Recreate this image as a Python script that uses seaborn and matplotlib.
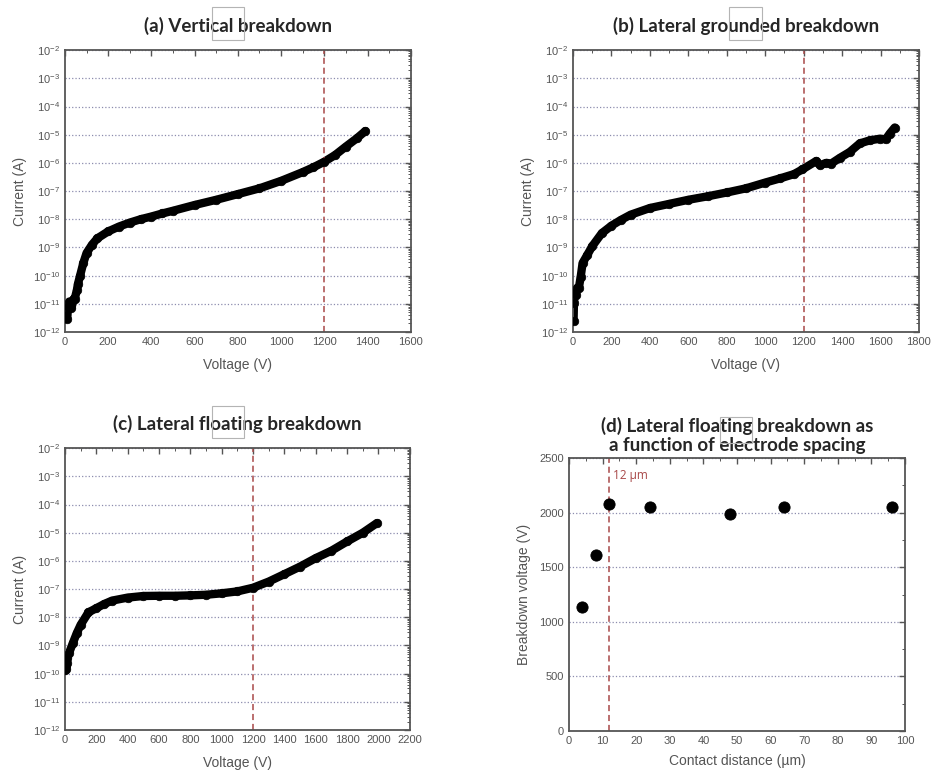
import math
import matplotlib
matplotlib.use("Agg")
import matplotlib.pyplot as plt
import matplotlib.ticker as mticker
from matplotlib.patches import Rectangle
import seaborn as sns
import pandas as pd

sns.set_style("white")
plt.rcParams['font.family'] = ['Liberation Sans', 'DejaVu Sans']
plt.rcParams['mathtext.default'] = 'regular'

# (a) vertical breakdown
volt_a = [5, 10, 15, 20, 30, 40, 45, 55, 60, 70, 85, 100, 125, 150, 200, 250, 300, 350,
          400, 450, 500, 600, 700, 800, 900, 1000, 1100, 1150, 1200, 1250, 1300, 1350, 1390]
curr_a = [4e-12, 3e-12, 8e-12, 1.2e-11, 7e-12, 1.5e-11, 1.5e-11, 3e-11, 5e-11, 1e-10,
          2.8e-10, 6.3e-10, 1.25e-9, 2.1e-9, 3.7e-9, 5.5e-9, 7.6e-9, 1e-8,
          1.25e-8, 1.6e-8, 2e-8, 3.2e-8, 4.9e-8, 7.8e-8, 1.25e-7, 2.3e-7, 4.7e-7, 7e-7,
          1.1e-6, 1.9e-6, 3.8e-6, 7.4e-6, 1.35e-5]

# (b) lateral grounded breakdown
volt_b = [3, 5, 10, 15, 20, 30, 40, 50, 75, 100, 150, 200, 250, 300, 400, 500, 600, 700,
          800, 900, 1000, 1076, 1150, 1194, 1266, 1284, 1318, 1344, 1388, 1440, 1492,
          1544, 1596, 1627, 1648, 1674]
curr_b = [2.5e-12, 1.1e-11, 2.5e-11, 2e-11, 3.6e-11, 3.5e-11, 9e-11, 2.8e-10, 5.5e-10,
          1.1e-9, 3.2e-9, 5.9e-9, 9.5e-9, 1.45e-8, 2.5e-8, 3.5e-8, 4.9e-8, 6.5e-8,
          8.9e-8, 1.25e-7, 2e-7, 2.8e-7, 4e-7, 5.9e-7, 1.17e-6, 8.3e-7, 1e-6, 9.5e-7,
          1.5e-6, 2.45e-6, 4.9e-6, 6.3e-6, 7.2e-6, 6.9e-6, 1.1e-5, 1.8e-5]

# (c) lateral floating breakdown
volt_c = [3, 5, 8, 10, 15, 25, 50, 75, 100, 150, 200, 250, 300, 400, 500, 600, 700, 800,
          900, 1000, 1100, 1200, 1300, 1400, 1500, 1600, 1700, 1800, 1900, 1990]
curr_c = [1.3e-10, 2e-10, 1.5e-10, 2.3e-10, 3.5e-10, 5.2e-10, 1.2e-9, 2.7e-9, 5.4e-9,
          1.5e-8, 2.1e-8, 2.95e-8, 3.9e-8, 5e-8, 5.7e-8, 5.8e-8, 5.8e-8, 6e-8,
          6.3e-8, 7.1e-8, 8.3e-8, 1.12e-7, 1.85e-7, 3.4e-7, 6.3e-7, 1.26e-6, 2.3e-6,
          4.9e-6, 1e-5, 2.2e-5]

# (d) breakdown voltage vs contact distance
dist_d = [4, 8, 12, 24, 48, 64, 96]
vbd_d = [1135, 1615, 2075, 2050, 1990, 2050, 2050]

tick_col = '#555555'
spine_col = '#555555'
grid_col = '#8c8cae'
red = '#a84848'

fig = plt.figure(figsize=(9.32, 7.72), dpi=100)


def style_axes(ax):
    for s in ax.spines.values():
        s.set_color(spine_col)
        s.set_linewidth(1.3)
    ax.tick_params(which='both', direction='in', top=True, right=True,
                   colors=spine_col, labelcolor=tick_col, labelsize=8)
    ax.tick_params(which='major', length=4, width=1)
    ax.tick_params(which='minor', length=2, width=0.7)
    ax.yaxis.grid(True, which='major', linestyle=':', color=grid_col, linewidth=0.9)
    ax.xaxis.grid(False)
    ax.set_axisbelow(True)


def iv_panel(rect, v, i, xmax, title):
    ax = fig.add_axes(rect)
    df = pd.DataFrame({'V': v, 'I': i})
    sns.lineplot(data=df, x='V', y='I', ax=ax, color='black', linewidth=6,
                 sort=False, estimator=None, solid_capstyle='round')
    sns.scatterplot(data=df, x='V', y='I', ax=ax, color='black', s=38,
                    edgecolor='black', linewidth=0.5, zorder=3)
    ax.axvline(1200, color=red, linestyle='--', linewidth=1.1, dashes=(4, 2.5))
    ax.set_yscale('log')
    ax.set_ylim(1e-12, 1e-2)
    ax.set_xlim(0, xmax)
    ax.xaxis.set_major_locator(mticker.MultipleLocator(200))
    ax.xaxis.set_minor_locator(mticker.MultipleLocator(100))
    ax.yaxis.set_major_locator(mticker.LogLocator(base=10, numticks=20))
    ax.yaxis.set_minor_locator(mticker.LogLocator(base=10, subs=range(2, 10), numticks=20))
    ax.yaxis.set_minor_formatter(mticker.NullFormatter())
    ax.yaxis.set_major_formatter(mticker.FuncFormatter(
        lambda y, p: r'$10^{%d}$' % round(math.log10(y))))
    style_axes(ax)
    ax.set_xlabel('Voltage (V)', fontsize=10, color=tick_col, labelpad=8)
    ax.set_ylabel('Current (A)', fontsize=10, color=tick_col, labelpad=4)
    ax.set_title(title, fontsize=13.5, fontweight='bold', family=['Lato', 'DejaVu Sans'],
                 pad=13)
    return ax


iv_panel([0.0697, 0.570, 0.371, 0.365], volt_a, curr_a, 1600, '(a) Vertical breakdown')
iv_panel([0.6148, 0.570, 0.3712, 0.365], volt_b, curr_b, 1800,
         '(b) Lateral grounded breakdown')
iv_panel([0.0697, 0.0544, 0.370, 0.365], volt_c, curr_c, 2200,
         '(c) Lateral floating breakdown')

# (d)
ax = fig.add_axes([0.6105, 0.0531, 0.3605, 0.3536])
dfd = pd.DataFrame({'d': dist_d, 'Vbd': vbd_d})
sns.scatterplot(data=dfd, x='d', y='Vbd', ax=ax, color='black', s=65,
                edgecolor='black', zorder=3)
ax.axvline(11.8, color=red, linestyle='--', linewidth=1.1, dashes=(4, 2.5))
ax.text(13, 2340, '12 µm', color=red, fontsize=8.5, va='center',
        family=['Open Sans', 'DejaVu Sans'])
ax.set_xlim(0, 100)
ax.set_ylim(0, 2500)
ax.xaxis.set_major_locator(mticker.MultipleLocator(10))
ax.xaxis.set_minor_locator(mticker.MultipleLocator(5))
ax.yaxis.set_major_locator(mticker.MultipleLocator(500))
ax.yaxis.set_minor_locator(mticker.MultipleLocator(250))
style_axes(ax)
ax.set_xlabel('Contact distance (µm)', fontsize=10, color=tick_col, labelpad=6)
ax.set_ylabel('Breakdown voltage (V)', fontsize=10, color=tick_col, labelpad=6)
ax.set_title('(d) Lateral floating breakdown as\na function of electrode spacing',
             fontsize=13.5, fontweight='bold', family=['Lato', 'DejaVu Sans'], pad=5,
             linespacing=1.15)

# thin gray boxes that sit over the titles
for (x0, y0, x1, y1) in [(212, 7, 244, 40), (729, 7, 762, 40),
                         (212, 406, 244, 438), (720, 417, 752, 443)]:
    fig.add_artist(Rectangle((x0 / 932, 1 - y1 / 772), (x1 - x0) / 932, (y1 - y0) / 772,
                             transform=fig.transFigure, fill=False,
                             edgecolor='#b4b4b4', linewidth=0.8))

fig.savefig('out.png', dpi=100)
